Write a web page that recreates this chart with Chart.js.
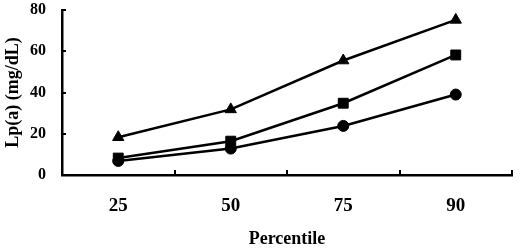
<!DOCTYPE html>
<html>
<head>
<meta charset="utf-8">
<script src="https://cdn.jsdelivr.net/npm/chart.js@4/dist/chart.umd.min.js"></script>
<style>
  html, body { margin: 0; padding: 0; background: #fff; }
  #wrap { width: 520px; height: 248px; }
</style>
</head>
<body>
<div id="wrap"><canvas id="lpChart"></canvas></div>
<script>
// percentile categories and Lp(a) values
const percentiles = ['25', '50', '75', '90'];
const triangleSeries = [18.3, 31.8, 55.5, 75.2];
const squareSeries = [8.2, 16.4, 34.8, 58.2];
const circleSeries = [6.8, 12.8, 23.8, 39.0];
const yTicks = [0, 20, 40, 60, 80];

const fontSerif = '"Liberation Serif", "Times New Roman", serif';

// small inward tick marks on both axes, like the printed figure
const innerTicks = {
    id: 'innerTicks',
    afterDraw(chart) {
        const ctx = chart.ctx;
        const x = chart.scales.x, y = chart.scales.y;
        const area = chart.chartArea;
        ctx.save();
        ctx.strokeStyle = '#000';
        ctx.lineWidth = 2;
        const half = (x.getPixelForValue(1) - x.getPixelForValue(0)) / 2;
        percentiles.forEach((p, i) => {
            const px = Math.round(x.getPixelForValue(i) + half);
            ctx.beginPath();
            ctx.moveTo(px, area.bottom);
            ctx.lineTo(px, area.bottom - 5);
            ctx.stroke();
        });
        yTicks.forEach(v => {
            const py = Math.round(y.getPixelForValue(v));
            ctx.beginPath();
            ctx.moveTo(area.left, py);
            ctx.lineTo(area.left + 4, py);
            ctx.stroke();
        });
        ctx.restore();
    }
};

function makeSet(label, data, style, radius) {
    return {
        label: label,
        data: data,
        borderColor: '#000',
        backgroundColor: '#000',
        borderWidth: 2.5,
        pointStyle: style,
        pointRadius: radius,
        pointBorderWidth: 1,
        pointBackgroundColor: '#000',
        pointBorderColor: '#000',
        tension: 0
    };
}

new Chart(document.getElementById('lpChart'), {
    type: 'line',
    data: {
        labels: percentiles,
        datasets: [
            makeSet('triangle', triangleSeries, 'triangle', 6.5),
            makeSet('square', squareSeries, 'rect', 7),
            makeSet('circle', circleSeries, 'circle', 5.5)
        ]
    },
    options: {
        responsive: true,
        maintainAspectRatio: false,
        animation: false,
        layout: { padding: { top: 10, right: 4, left: 0, bottom: 0 } },
        plugins: {
            legend: { display: false },
            tooltip: { enabled: false }
        },
        scales: {
            x: {
                offset: true,
                grid: { display: false },
                border: { display: true, color: '#000', width: 2.5 },
                ticks: {
                    color: '#000',
                    padding: 12,
                    font: { family: fontSerif, size: 19, weight: 'bold' }
                },
                title: {
                    display: true,
                    text: 'Percentile',
                    color: '#000',
                    padding: { top: 6, bottom: -2 },
                    font: { family: fontSerif, size: 18, weight: 'bold' }
                },
                afterFit(scale) { scale.height = 73; }
            },
            y: {
                min: 0,
                max: 80,
                afterBuildTicks(scale) { scale.ticks = yTicks.map(v => ({ value: v })); },
                grid: { display: false },
                border: { display: true, color: '#000', width: 2.5 },
                ticks: {
                    color: '#000',
                    padding: 8,
                    font: { family: fontSerif, size: 16, weight: 'bold' }
                },
                title: {
                    display: true,
                    text: 'Lp(a) (mg/dL)',
                    color: '#000',
                    padding: { top: 3, bottom: 4 },
                    font: { family: fontSerif, size: 18, weight: 'bold' }
                },
                afterFit(scale) {
                    scale.width = 62;
                    scale.paddingTop = 0;
                    scale.paddingBottom = 0;
                }
            }
        }
    },
    plugins: [innerTicks]
});
</script>
</body>
</html>
